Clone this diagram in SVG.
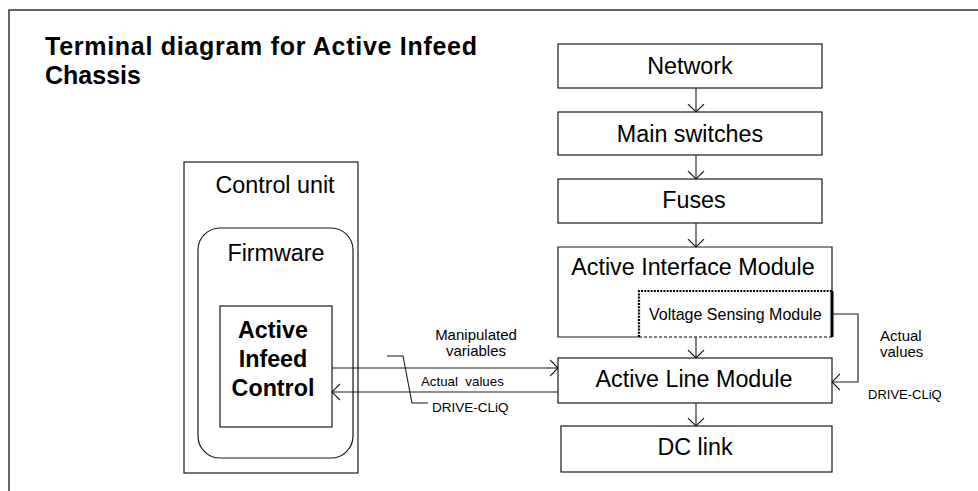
<svg xmlns="http://www.w3.org/2000/svg" width="978" height="491" viewBox="0 0 978 491">
<style>
  .box{fill:#fff;stroke:#1a1a1a;stroke-width:1.2}
  .lbl{font-family:"Liberation Sans",Arial,sans-serif;font-size:23.3px;fill:#000;text-anchor:middle}
  .sm{font-family:"Liberation Sans",Arial,sans-serif;fill:#000}
  .ttl{font-family:"Liberation Sans",Arial,sans-serif;font-size:25px;font-weight:bold;fill:#000}
  .con{fill:none;stroke:#1a1a1a;stroke-width:1.1}
</style>
<defs>
  <marker id="ah" markerUnits="userSpaceOnUse" markerWidth="9" markerHeight="18" viewBox="0 0 9 18" refX="8" refY="9" orient="auto">
    <path d="M0,1 L8,9 L0,17" fill="none" stroke="#1a1a1a" stroke-width="1.1"/>
  </marker>
</defs>
<rect width="978" height="491" fill="#fff"/>
<path d="M9,491 V10 H978" fill="none" stroke="#333" stroke-width="1.5"/>
<g id="title">
  <text class="ttl" x="45" y="55" textLength="432" lengthAdjust="spacing">Terminal diagram for Active Infeed</text>
  <text class="ttl" x="45" y="83.5">Chassis</text>
</g>
<g id="network"><rect class="box" x="558" y="44" width="264" height="44"/><text class="lbl" x="690" y="74">Network</text></g>
<g id="main-switches"><rect class="box" x="558" y="112" width="264" height="43"/><text class="lbl" x="690" y="142">Main switches</text></g>
<g id="fuses"><rect class="box" x="558" y="179" width="264" height="44"/><text class="lbl" x="694" y="208">Fuses</text></g>
<g id="active-interface-module">
  <path class="box" d="M639,337 H558 V247 H832 V291"/>
  <text class="lbl" x="693" y="275">Active Interface Module</text>
</g>
<g id="voltage-sensing-module">
  <path d="M639,337 V291 H832" fill="none" stroke="#000" stroke-width="2.2" stroke-dasharray="2,1.2"/>
  <path d="M639,337 H832" fill="none" stroke="#000" stroke-width="1" stroke-dasharray="3,2"/>
  <path d="M832,291 V337" fill="none" stroke="#000" stroke-width="3"/>
  <text class="sm" x="649" y="320" font-size="16">Voltage Sensing Module</text>
</g>
<g id="active-line-module"><rect class="box" x="558" y="358" width="274" height="45"/><text class="lbl" x="694" y="387">Active Line Module</text></g>
<g id="dc-link"><rect class="box" x="561" y="426" width="271" height="46"/><text class="lbl" x="695" y="455">DC link</text></g>
<g id="control-unit">
  <rect class="box" x="184" y="162" width="174" height="311"/>
  <text class="lbl" x="275" y="193">Control unit</text>
</g>
<g id="firmware">
  <rect class="box" x="198" y="228" width="155" height="230" rx="22" ry="22"/>
  <text class="lbl" x="276" y="261">Firmware</text>
</g>
<g id="active-infeed-control">
  <rect class="box" x="220" y="306" width="112" height="121"/>
  <text class="lbl" x="273" y="338" font-weight="bold" font-size="25.5">Active</text>
  <text class="lbl" x="273" y="367" font-weight="bold" font-size="25.5">Infeed</text>
  <text class="lbl" x="273" y="396" font-weight="bold" font-size="25.5">Control</text>
</g>
<g id="connectors">
  <path class="con" d="M696,88 V112" marker-end="url(#ah)"/>
  <path class="con" d="M696,155 V179" marker-end="url(#ah)"/>
  <path class="con" d="M696,223 V247" marker-end="url(#ah)"/>
  <path class="con" d="M696,337 V358" marker-end="url(#ah)"/>
  <path class="con" d="M696,403 V426" marker-end="url(#ah)"/>
  <path class="con" d="M332,368 H558" marker-end="url(#ah)"/>
  <path class="con" d="M558,392 H332" marker-end="url(#ah)"/>
  <path class="con" d="M832,314 H858 V382 H832" marker-end="url(#ah)"/>
  <path class="con" d="M387,356 H403 L412,403 H428"/>
</g>
<g id="labels">
  <text class="sm" x="476" y="340" font-size="15" text-anchor="middle">Manipulated</text>
  <text class="sm" x="476" y="356" font-size="15" text-anchor="middle">variables</text>
  <text class="sm" x="421" y="386" font-size="13.3" xml:space="preserve">Actual  values</text>
  <text class="sm" x="432" y="412" font-size="13.5">DRIVE-CLiQ</text>
  <text class="sm" x="880" y="341" font-size="15">Actual</text>
  <text class="sm" x="880" y="357" font-size="15">values</text>
  <text class="sm" x="868" y="399" font-size="13">DRIVE-CLiQ</text>
</g>
</svg>
